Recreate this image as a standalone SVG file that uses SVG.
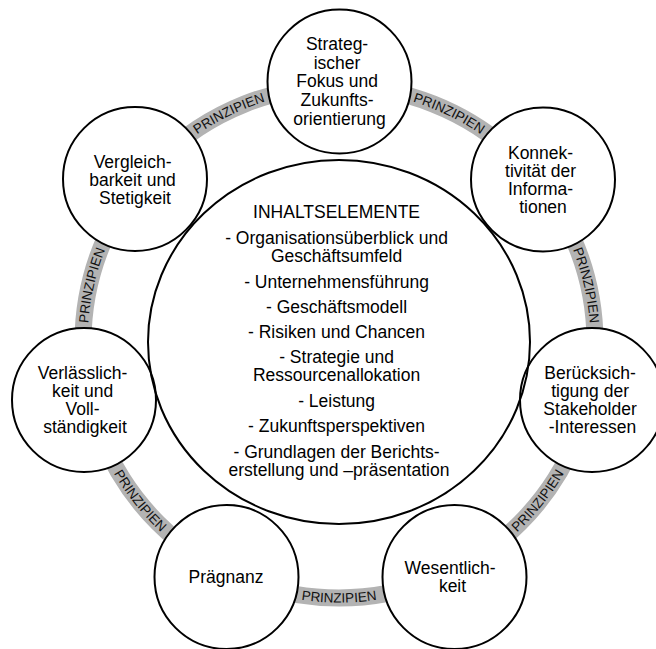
<svg xmlns="http://www.w3.org/2000/svg" xmlns:xlink="http://www.w3.org/1999/xlink" width="656" height="649" viewBox="0 0 656 649">
  <style>
    .ring { fill: none; stroke: #b3b3b3; stroke-width: 17; }
    .node { fill: #ffffff; stroke: #000000; stroke-width: 2; }
    .core { fill: none; stroke: #000000; stroke-width: 2; }
    .lbl { font-family: "Liberation Sans", Arial, sans-serif; font-size: 17.5px; fill: #000000; text-anchor: middle; }
    .band { font-family: "Liberation Sans", Arial, sans-serif; font-size: 13.5px; fill: #111111; text-anchor: middle; }
  </style>
  <defs>
    <!-- clockwise arcs: label upright facing outward -->
    <path id="arcTL" d="M159.1,166.4 A251.2,251.2 0 0 1 314.0,91.8"/>
    <path id="arcTR" d="M364.0,91.8 A251.2,251.2 0 0 1 518.9,166.4"/>
    <path id="arcR" d="M550.1,205.4 A251.2,251.2 0 0 1 588.5,373.1"/>
    <path id="arcL" d="M89.5,373.1 A251.2,251.2 0 0 1 127.9,205.4"/>
    <!-- counter-clockwise arcs: label upright facing inward -->
    <path id="arcBR" d="M474.8,564.4 A260.8,260.8 0 0 0 586.0,425.1"/>
    <path id="arcB" d="M249.9,586.9 A260.8,260.8 0 0 0 428.1,586.9"/>
    <path id="arcBL" d="M92.0,425.1 A260.8,260.8 0 0 0 203.2,564.4"/>
  </defs>

  <!-- connecting ring with its labels -->
  <g id="connectors">
    <circle class="ring" cx="339" cy="342" r="256"/>
    <text class="band"><textPath xlink:href="#arcTL" href="#arcTL" startOffset="50%">PRINZIPIEN</textPath></text>
    <text class="band"><textPath xlink:href="#arcTR" href="#arcTR" startOffset="50%">PRINZIPIEN</textPath></text>
    <text class="band"><textPath xlink:href="#arcR" href="#arcR" startOffset="50%">PRINZIPIEN</textPath></text>
    <text class="band"><textPath xlink:href="#arcBR" href="#arcBR" startOffset="50%">PRINZIPIEN</textPath></text>
    <text class="band"><textPath xlink:href="#arcB" href="#arcB" startOffset="50%">PRINZIPIEN</textPath></text>
    <text class="band"><textPath xlink:href="#arcBL" href="#arcBL" startOffset="50%">PRINZIPIEN</textPath></text>
    <text class="band"><textPath xlink:href="#arcL" href="#arcL" startOffset="50%">PRINZIPIEN</textPath></text>
  </g>

  <g id="strategischer-fokus">
    <circle class="node" cx="339.5" cy="81.5" r="72"/>
    <text class="lbl" x="339.5">
      <tspan x="339.5" y="50">Strateg-</tspan>
      <tspan x="339.5" y="68.7">ischer</tspan>
      <tspan x="339.5" y="87.4">Fokus und</tspan>
      <tspan x="339.5" y="106.1">Zukunfts-</tspan>
      <tspan x="339.5" y="124.8">orientierung</tspan>
    </text>
  </g>

  <g id="konnektivitaet">
    <circle class="node" cx="543" cy="179.5" r="72"/>
    <text class="lbl">
      <tspan x="543" y="159">Konnek-</tspan>
      <tspan x="543" y="177">tivität der</tspan>
      <tspan x="543" y="195">Informa-</tspan>
      <tspan x="543" y="213">tionen</tspan>
    </text>
  </g>

  <g id="stakeholder">
    <circle class="node" cx="592" cy="400" r="72"/>
    <text class="lbl">
      <tspan x="592.5" y="379">Berücksich-</tspan>
      <tspan x="592.5" y="397">tigung der</tspan>
      <tspan x="592.5" y="415">Stakeholder</tspan>
      <tspan x="592.5" y="433">-Interessen</tspan>
    </text>
  </g>

  <g id="wesentlichkeit">
    <circle class="node" cx="454.5" cy="577" r="72"/>
    <text class="lbl">
      <tspan x="452.5" y="574">Wesentlich-</tspan>
      <tspan x="452.5" y="592">keit</tspan>
    </text>
  </g>

  <g id="praegnanz">
    <circle class="node" cx="226.5" cy="577" r="72"/>
    <text class="lbl" x="226" y="583.3">Prägnanz</text>
  </g>

  <g id="verlaesslichkeit">
    <circle class="node" cx="84" cy="400" r="72"/>
    <text class="lbl">
      <tspan x="85" y="379">Verlässlich-</tspan>
      <tspan x="85" y="397">keit und</tspan>
      <tspan x="85" y="415">Voll-</tspan>
      <tspan x="85" y="433">ständigkeit</tspan>
    </text>
  </g>

  <g id="vergleichbarkeit">
    <circle class="node" cx="135" cy="179" r="72"/>
    <text class="lbl">
      <tspan x="135" y="168">Vergleich-</tspan>
      <tspan x="135" y="186">barkeit und</tspan>
      <tspan x="135" y="204">Stetigkeit</tspan>
    </text>
  </g>

  <g id="inhaltselemente">
    <ellipse class="core" cx="339" cy="342" rx="191" ry="182"/>
    <text class="lbl">
      <tspan x="339" y="218">INHALTSELEMENTE</tspan>
      <tspan x="339" y="244">- Organisationsüberblick und</tspan>
      <tspan x="339" y="262">Geschäftsumfeld</tspan>
      <tspan x="339" y="288">- Unternehmensführung</tspan>
      <tspan x="339" y="313">- Geschäftsmodell</tspan>
      <tspan x="339" y="338">- Risiken und Chancen</tspan>
      <tspan x="339" y="363">- Strategie und</tspan>
      <tspan x="339" y="381">Ressourcenallokation</tspan>
      <tspan x="339" y="407">- Leistung</tspan>
      <tspan x="339" y="432">- Zukunftsperspektiven</tspan>
      <tspan x="339" y="458">- Grundlagen der Berichts-</tspan>
      <tspan x="339" y="476">erstellung und –präsentation</tspan>
    </text>
  </g>
</svg>
